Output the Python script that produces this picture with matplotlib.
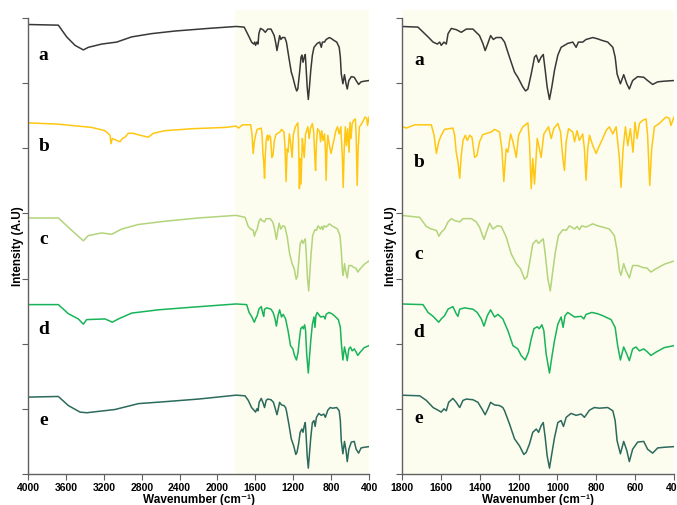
import numpy as np
from matplotlib import pyplot as plt

# FTIR spectra (wavenumber in cm-1, stacked intensity)
WN_A = [4000, 3680, 3592, 3504, 3416, 3363, 3222, 3064, 2906, 2695, 2448, 2096,
        1803, 1718, 1666, 1640, 1618, 1606, 1598, 1584, 1572, 1563, 1546, 1520,
        1495, 1469, 1435, 1418, 1401, 1384, 1372, 1358, 1344, 1330, 1315, 1289,
        1272, 1247, 1221, 1204, 1178, 1164, 1152, 1135, 1118, 1109, 1097, 1084,
        1073, 1063, 1053, 1041, 1029, 1015, 998, 981, 947, 921, 904, 892, 870,
        853, 818, 793, 775, 741, 715, 703, 693, 676, 659, 643, 630, 613, 587,
        556, 536, 510, 484, 450, 400]
INT_A = [6.90, 6.89, 6.71, 6.58, 6.51, 6.55, 6.60, 6.63, 6.71, 6.76, 6.80, 6.84,
         6.87, 6.86, 6.71, 6.63, 6.60, 6.63, 6.58, 6.63, 6.60, 6.76, 6.84, 6.82,
         6.78, 6.83, 6.83, 6.78, 6.73, 6.61, 6.50, 6.61, 6.73, 6.67, 6.70, 6.70,
         6.63, 6.40, 6.17, 6.09, 5.94, 5.88, 5.91, 6.14, 6.40, 6.43, 6.32, 6.40,
         6.44, 6.20, 5.94, 5.75, 5.94, 6.20, 6.43, 6.55, 6.61, 6.63, 6.55, 6.63, 6.63,
         6.67, 6.70, 6.68, 6.66, 6.63, 6.55, 6.40, 6.14, 5.99, 6.13, 5.99, 5.91, 6.04, 6.10,
         6.09, 6.04, 5.98, 6.02, 6.03, 6.04]

WN_B = [4000, 3680, 3328, 3187, 3134, 3124, 3110, 3064, 3029, 3004, 2976, 2941,
        2888, 2818, 2730, 2677, 2554, 2272, 1920,
        1803, 1778, 1735, 1649, 1635, 1623, 1611, 1598, 1581, 1538, 1529, 1521,
        1512, 1503, 1495, 1486, 1474, 1464, 1452, 1440, 1426, 1414, 1401, 1384,
        1341, 1324, 1298, 1286, 1276, 1264, 1255, 1241, 1229, 1212, 1200, 1178,
        1152, 1144, 1135, 1127, 1118, 1104, 1096, 1084, 1070, 1046, 1032, 1019,
        998, 984, 972, 964, 955, 943, 921, 912, 899, 887, 870, 861, 853, 844,
        835, 818, 801, 784, 767, 750, 733, 715, 698, 681, 673, 662, 650, 638,
        625, 611, 601, 590, 578, 561, 544, 536, 525, 515, 501, 476, 441, 424,
        416, 400]
INT_B = [5.39, 5.37, 5.32, 5.27, 5.20, 5.07, 5.15, 5.12, 5.10, 5.15, 5.17, 5.23,
         5.23, 5.20, 5.17, 5.23, 5.27, 5.30, 5.32,
         5.34, 5.31, 5.36, 5.36, 5.20, 4.92, 5.10, 5.20, 5.29, 5.31, 5.20, 4.94,
         4.79, 4.54, 4.89, 5.12, 5.20, 5.12, 5.20, 5.17, 4.86, 4.89, 5.10, 5.21,
         5.25, 5.29, 5.25, 4.99, 4.49, 4.99, 4.94, 5.22, 5.10, 4.86, 5.20, 5.33,
         5.39, 5.10, 4.38, 4.84, 4.45, 5.15, 5.04, 4.86, 5.22, 5.33, 5.15, 5.30,
         5.38, 5.25, 4.84, 4.66, 5.10, 5.30, 5.25, 5.10, 5.27, 5.12, 5.22, 4.99, 4.51, 4.99,
         5.20, 5.04, 4.92, 5.04, 5.15, 5.27, 5.33, 5.22, 5.33, 4.84, 4.40, 4.99, 5.33, 5.04,
         5.30, 4.94, 5.40, 5.15, 5.38, 5.43, 5.45, 5.20, 4.43, 4.99, 5.33, 5.38, 5.48, 5.46,
         5.35, 5.48]

WN_C = [4000, 3680, 3539, 3416, 3363, 3222, 3117, 3011, 2835, 2554, 2202,
        1803, 1709, 1675, 1649, 1623, 1610, 1598, 1581, 1563, 1546, 1529, 1503,
        1486, 1443, 1418, 1401, 1389, 1378, 1366, 1349, 1332, 1310, 1289, 1264,
        1238, 1212, 1190, 1169, 1156, 1144, 1127, 1109, 1097, 1084, 1073, 1063,
        1049, 1037, 1026, 1012, 995, 972, 955, 938, 912, 899, 887, 875, 853, 818,
        793, 767, 733, 707, 693, 681, 673, 659, 647, 630, 613, 587, 561, 539,
        519, 493, 450, 400]
INT_C = [3.93, 3.93, 3.74, 3.58, 3.66, 3.70, 3.68, 3.76, 3.83, 3.88, 3.93,
         3.97, 3.94, 3.80, 3.76, 3.74, 3.65, 3.71, 3.76, 3.87, 3.92, 3.89, 3.87,
         3.92, 3.92, 3.87, 3.79, 3.69, 3.60, 3.71, 3.85, 3.76, 3.81, 3.80, 3.64,
         3.38, 3.23, 3.15, 2.99, 3.03, 3.23, 3.53, 3.59, 3.54, 3.58, 3.61, 3.38,
         2.99, 2.81, 3.07, 3.38, 3.66, 3.75, 3.74, 3.81, 3.76, 3.80, 3.75, 3.81, 3.79, 3.84,
         3.81, 3.79, 3.76, 3.66, 3.43, 3.12, 3.05, 3.23, 3.12, 3.01, 3.20, 3.20, 3.17, 3.16,
         3.10, 3.15, 3.22, 3.27]

WN_D = [4000, 3680, 3574, 3469, 3416, 3381, 3187, 3110, 3046, 2906, 2624, 2272,
        1803, 1692, 1666, 1640, 1611, 1598, 1581, 1563, 1538, 1521, 1512, 1503,
        1478, 1435, 1413, 1392, 1378, 1361, 1344, 1324, 1306, 1281, 1255, 1229,
        1204, 1187, 1166, 1149, 1135, 1121, 1104, 1094, 1080, 1070, 1058, 1041,
        1029, 1015, 998, 981, 971, 961, 947, 912, 878, 864, 853, 823, 793, 767,
        724, 703, 690, 676, 659, 643, 630, 613, 596, 578, 556, 539, 519, 493,
        450, 400]
INT_D = [2.60, 2.60, 2.46, 2.38, 2.30, 2.37, 2.38, 2.33, 2.38, 2.47, 2.52, 2.56,
         2.61, 2.60, 2.48, 2.42, 2.33, 2.38, 2.43, 2.53, 2.57, 2.46, 2.42, 2.53,
         2.55, 2.53, 2.48, 2.38, 2.27, 2.43, 2.52, 2.41, 2.45, 2.38, 2.20, 1.97,
         1.92, 1.82, 1.75, 1.87, 2.07, 2.23, 2.26, 2.23, 2.29, 2.20, 1.84, 1.55,
         1.79, 2.05, 2.30, 2.41, 2.25, 2.43, 2.48, 2.41, 2.42, 2.38, 2.45, 2.48, 2.46, 2.43,
         2.37, 2.25, 1.97, 1.75, 1.95, 1.84, 1.74, 1.92, 1.95, 1.89, 1.92, 1.88, 1.82, 1.87,
         1.94, 1.97]

WN_E = [4000, 3680, 3574, 3451, 3381, 3082, 2835, 2554, 2202,
        1803, 1709, 1675, 1640, 1615, 1598, 1584, 1572, 1560, 1538, 1521, 1503,
        1486, 1469, 1435, 1409, 1389, 1372, 1358, 1344, 1324, 1298, 1281, 1272,
        1247, 1221, 1195, 1173, 1161, 1144, 1127, 1109, 1097, 1084, 1073, 1063,
        1053, 1041, 1029, 1015, 998, 981, 969, 955, 930, 904, 878, 861, 835, 810,
        784, 741, 715, 703, 693, 676, 659, 643, 630, 613, 587, 556, 536, 510,
        484, 450, 400]
INT_E = [1.18, 1.19, 1.05, 0.95, 0.94, 0.99, 1.08, 1.11, 1.15,
         1.21, 1.20, 1.13, 1.02, 0.98, 0.95, 1.00, 0.97, 1.10, 1.16, 1.10, 1.02,
         1.13, 1.15, 1.14, 1.10, 1.00, 0.91, 1.00, 1.10, 1.06, 1.05, 1.02, 0.97,
         0.77, 0.54, 0.43, 0.30, 0.33, 0.46, 0.64, 0.69, 0.64, 0.74, 0.79, 0.56,
         0.28, 0.09, 0.31, 0.56, 0.79, 0.82, 0.73, 0.87, 0.93, 0.90, 0.92, 0.87, 0.98, 1.02,
         1.01, 1.02, 0.97, 0.82, 0.51, 0.31, 0.50, 0.36, 0.19, 0.38, 0.49, 0.50, 0.38, 0.32,
         0.40, 0.41, 0.42]

SPECTRA = {
    'a': (WN_A, INT_A),
    'b': (WN_B, INT_B),
    'c': (WN_C, INT_C),
    'd': (WN_D, INT_D),
    'e': (WN_E, INT_E),
}
COLORS = {
    'a': '#383838',
    'b': '#FFC712',
    'c': '#B2D47A',
    'd': '#18B45A',
    'e': '#2B6A5C',
}

CREAM = '#FDFDEF'
SPINE = '#606060'
SANS = ['Liberation Sans', 'DejaVu Sans']

fig = plt.figure(figsize=(6.77, 5.06), dpi=100)
ax1 = fig.add_axes([0.0414, 0.0613, 0.5037, 0.917])
ax2 = fig.add_axes([0.5938, 0.0613, 0.4018, 0.917])

# sample labels (x in cm-1, y in axis units)
label_pos = {
    ax1: (3835, [6.44, 5.04, 3.61, 2.24, 0.83]),
    ax2: (1712, [6.36, 4.79, 3.39, 2.18, 0.86]),
}

for ax, xlim, xticks in [(ax1, (4000, 400), np.arange(4000, 399, -400)),
                         (ax2, (1800, 400), np.arange(1800, 399, -200))]:
    if ax is ax1:
        ax.axvspan(1815, 400, color=CREAM, zorder=0, lw=0)
    else:
        ax.set_facecolor(CREAM)

    for key, (wn, val) in SPECTRA.items():
        ax.plot(wn, val, color=COLORS[key], lw=1.1, zorder=2)

    lx, lys = label_pos[ax]
    for key, ly in zip(SPECTRA.keys(), lys):
        ax.text(lx, ly, key, fontsize=14, fontweight='bold',
                family='Liberation Serif', ha='center', va='center', zorder=3)

    ax.set_xlim(*xlim)
    ax.set_ylim(0, 7.123)
    ax.set_xticks(xticks)
    ax.set_xticklabels([str(t) for t in xticks], family=SANS,
                       fontweight='bold', fontsize=7.5)
    ax.set_yticks(np.arange(0, 8))
    ax.set_yticklabels([])
    ax.tick_params(direction='out', length=4, width=0.8, color=SPINE, pad=2)

    for s in ['top', 'right']:
        ax.spines[s].set_visible(False)
    for s in ['left', 'bottom']:
        ax.spines[s].set_color(SPINE)
        ax.spines[s].set_linewidth(1.0)
    ax.spines['left'].set_bounds(0, 7)

    ax.set_xlabel('Wavenumber (cm\u207b\u00b9)', family=SANS,
                  fontweight='bold', fontsize=8.5, labelpad=0.5)

fig.text(18 / 677, 1 - 246 / 506, 'Intensity (A.U)', rotation=90,
         family=SANS, fontweight='bold', fontsize=8.5,
         ha='center', va='center')
fig.text(391 / 677, 1 - 246 / 506, 'Intensity (A.U)', rotation=90,
         family=SANS, fontweight='bold', fontsize=8.5,
         ha='center', va='center')

fig.savefig('out.png', dpi=100)
